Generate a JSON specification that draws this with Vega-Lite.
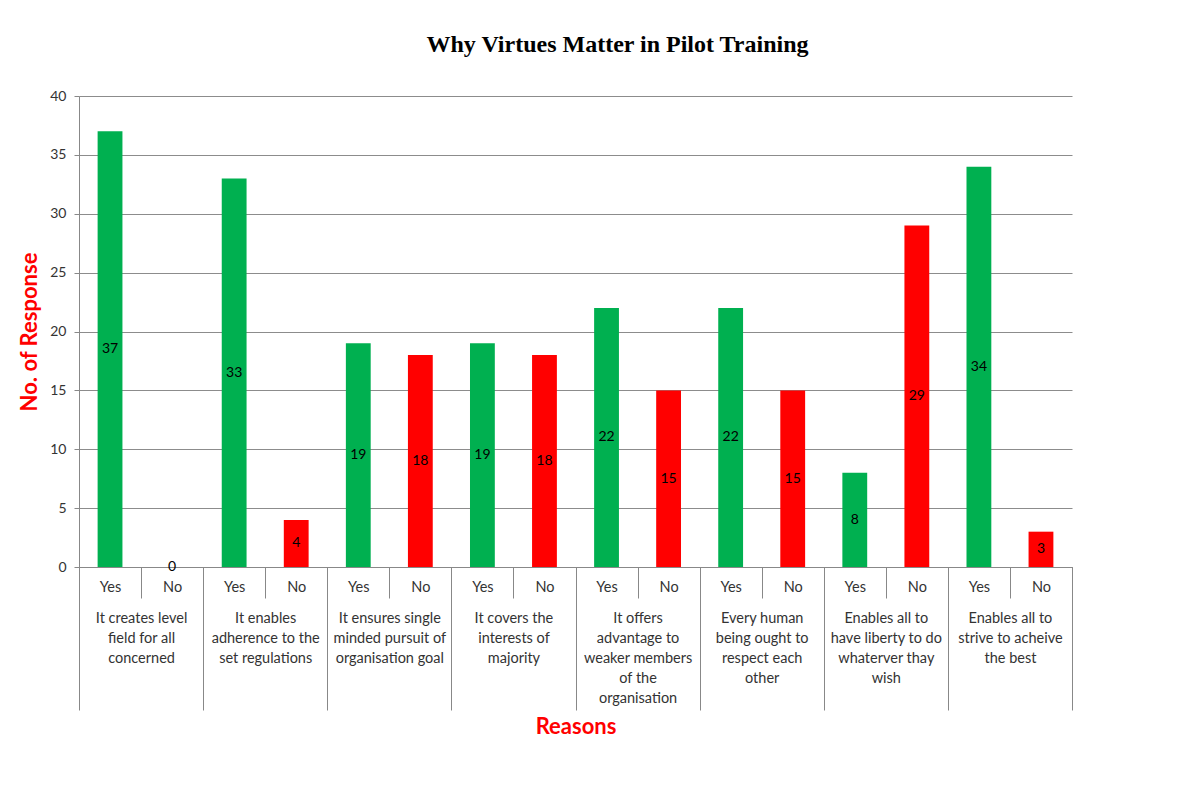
{
  "$schema": "https://vega.github.io/schema/vega-lite/v6.json",
  "width": 993,
  "height": 471,
  "autosize": {"type": "none"},
  "padding": {"left": 79, "top": 96, "right": 131, "bottom": 220},
  "background": "white",
  "title": {
    "text": "Why Virtues Matter in Pilot Training",
    "font": "Liberation Serif",
    "fontSize": 24,
    "fontWeight": "bold",
    "color": "black",
    "offset": 32,
    "dx": 42,
    "anchor": "middle",
    "frame": "group"
  },
  "config": {
    "view": {"stroke": null},
    "axis": {"labelFont": "Lato", "titleFont": "Lato"}
  },
  "data": {
    "values": [
      {"reason": "It creates level\nfield for all\nconcerned", "answer": "Yes", "value": 37},
      {"reason": "It creates level\nfield for all\nconcerned", "answer": "No", "value": 0},
      {"reason": "It enables\nadherence to the\nset regulations", "answer": "Yes", "value": 33},
      {"reason": "It enables\nadherence to the\nset regulations", "answer": "No", "value": 4},
      {"reason": "It ensures single\nminded pursuit of\norganisation goal", "answer": "Yes", "value": 19},
      {"reason": "It ensures single\nminded pursuit of\norganisation goal", "answer": "No", "value": 18},
      {"reason": "It covers the\ninterests of\nmajority", "answer": "Yes", "value": 19},
      {"reason": "It covers the\ninterests of\nmajority", "answer": "No", "value": 18},
      {"reason": "It offers\nadvantage to\nweaker members\nof the\norganisation", "answer": "Yes", "value": 22},
      {"reason": "It offers\nadvantage to\nweaker members\nof the\norganisation", "answer": "No", "value": 15},
      {"reason": "Every human\nbeing ought to\nrespect each\nother", "answer": "Yes", "value": 22},
      {"reason": "Every human\nbeing ought to\nrespect each\nother", "answer": "No", "value": 15},
      {"reason": "Enables all to\nhave liberty to do\nwhaterver thay\nwish", "answer": "Yes", "value": 8},
      {"reason": "Enables all to\nhave liberty to do\nwhaterver thay\nwish", "answer": "No", "value": 29},
      {"reason": "Enables all to\nstrive to acheive\nthe best", "answer": "Yes", "value": 34},
      {"reason": "Enables all to\nstrive to acheive\nthe best", "answer": "No", "value": 3}
    ]
  },
  "transform": [
    {"calculate": "datum.reason + '|' + datum.answer", "as": "slot"},
    {"calculate": "datum.value / 2", "as": "mid"}
  ],
  "layer": [
    {
      "layer": [
        {
          "mark": {"type": "bar"},
          "encoding": {
            "x": {"field": "slot", "type": "nominal", "sort": null, "scale": {"paddingInner": 0.6, "paddingOuter": 0.3}, "axis": null},
            "y": {
              "field": "value",
              "type": "quantitative",
              "scale": {"domain": [0, 40], "nice": false},
              "axis": {
                "title": "No. of Response",
                "titleColor": "#FF0000",
                "titleFontSize": 22,
                "titleFontWeight": "bold",
                "titlePadding": 8,
                "values": [0, 5, 10, 15, 20, 25, 30, 35, 40],
                "labelFontSize": 14,
                "labelColor": "#333333",
                "labelPadding": 8,
                "ticks": true,
                "tickSize": 5,
                "tickColor": "#888888",
                "domain": true,
                "domainColor": "#888888",
                "grid": true,
                "gridColor": "#8c8c8c",
                "gridWidth": 1
              }
            },
            "color": {
              "field": "answer",
              "type": "nominal",
              "scale": {"domain": ["Yes", "No"], "range": ["#00B050", "#FF0000"]},
              "legend": null
            }
          }
        },
        {
          "mark": {"type": "text", "font": "Lato", "fontSize": 14, "color": "black", "baseline": "middle", "align": "center"},
          "encoding": {
            "x": {"field": "slot", "type": "nominal", "sort": null, "scale": {"paddingInner": 0.6, "paddingOuter": 0.3}, "axis": null},
            "y": {"field": "mid", "type": "quantitative"},
            "text": {"field": "value", "type": "quantitative"}
          }
        }
      ]
    },
    {
      "mark": {"type": "point", "opacity": 0},
      "encoding": {
        "x": {
          "field": "slot",
          "type": "nominal",
          "sort": null,
          "scale": {"padding": 0},
          "axis": {
            "orient": "bottom",
            "title": null,
            "labelExpr": "split(datum.label, '|')[1]",
            "labelAngle": 0,
            "labelFontSize": 14.5,
            "labelColor": "#333333",
            "labelBaseline": "top",
            "labelPadding": -18,
            "tickBand": "extent",
            "tickSize": 31,
            "tickColor": "#888888",
            "domainColor": "#888888",
            "grid": false
          }
        },
        "y": {"field": "value", "type": "quantitative"}
      }
    },
    {
      "mark": {"type": "point", "opacity": 0},
      "encoding": {
        "x": {
          "field": "reason",
          "type": "nominal",
          "sort": null,
          "scale": {"padding": 0},
          "axis": {
            "orient": "bottom",
            "title": "Reasons",
            "titleColor": "#FF0000",
            "titleFontSize": 22,
            "titleFontWeight": "bold",
            "titlePadding": 6,
            "labelExpr": "split(datum.label, '\\n')",
            "labelAngle": 0,
            "labelFontSize": 14.5,
            "labelColor": "#333333",
            "labelBaseline": "top",
            "labelLineHeight": 20,
            "labelLimit": 0,
            "labelPadding": -99,
            "tickBand": "extent",
            "tickSize": 143,
            "tickColor": "#888888",
            "domainColor": "#888888",
            "grid": false
          }
        },
        "y": {"field": "value", "type": "quantitative"}
      }
    }
  ],
  "resolve": {"scale": {"x": "independent"}, "axis": {"x": "independent"}}
}
